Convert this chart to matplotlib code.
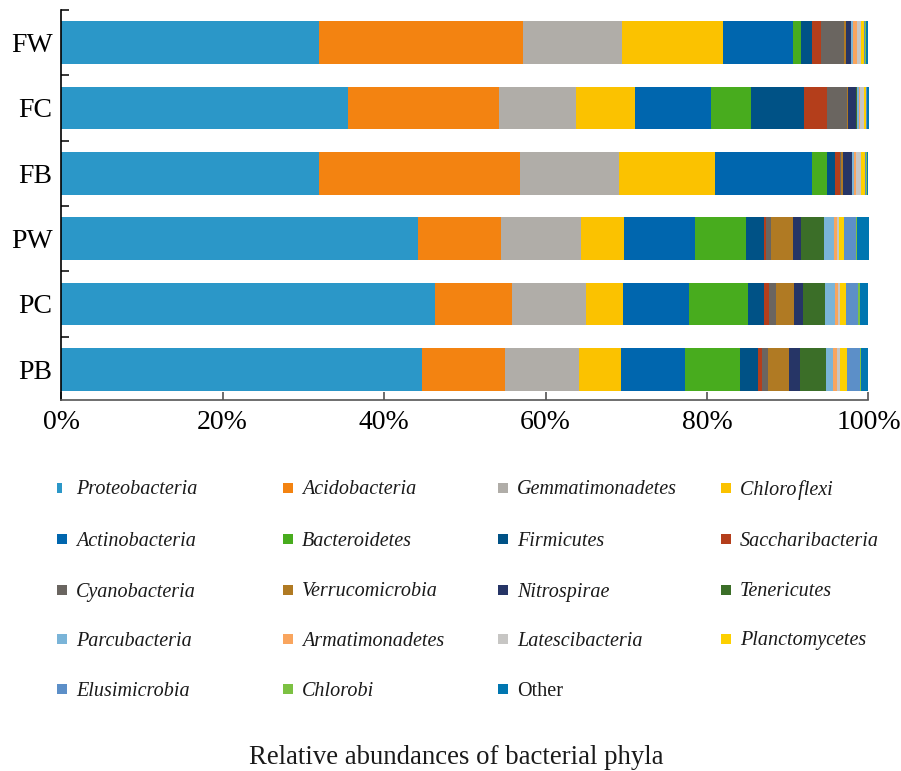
import matplotlib
matplotlib.use("Agg")
import matplotlib.pyplot as plt
from matplotlib.patches import Rectangle
import numpy as np

samples = ["PB", "PC", "PW", "FB", "FC", "FW"]

phyla = ["Proteobacteria", "Acidobacteria", "Gemmatimonadetes", "Chloroflexi",
         "Actinobacteria", "Bacteroidetes", "Firmicutes", "Saccharibacteria",
         "Cyanobacteria", "Verrucomicrobia", "Nitrospirae", "Tenericutes",
         "Parcubacteria", "Armatimonadetes", "Latescibacteria", "Planctomycetes",
         "Elusimicrobia", "Chlorobi", "Other"]

legend_labels = ["Proteobacteria", "Acidobacteria", "Gemmatimonadetes", "Chloro\u200aflexi",
                 "Actinobacteria", "Bacteroidetes", "Firmicutes", "Saccharibacteria",
                 "Cyanobacteria", "Verrucomicrobia", "Nitrospirae", "Tenericutes",
                 "Parcubacteria", "Armatimonadetes", "Latescibacteria", "Planctomycetes",
                 "Elusimicrobia", "Chlorobi", "Other"]

colors = ["#2B97C8", "#F38311", "#B0ADA8", "#FBC200",
          "#0066AE", "#48AC1E", "#005286", "#B43E1B",
          "#6A6560", "#B07A23", "#263566", "#3B6E28",
          "#7AB4D8", "#F9A55E", "#C7C6C4", "#FDD000",
          "#5C8FC8", "#7CC142", "#0076B0"]

# relative abundance (%) per phylum, one value per sample in order PB, PC, PW, FB, FC, FW
proteobacteria   = [44.7, 46.3, 44.2, 31.9, 35.5, 31.95]
acidobacteria    = [10.3,  9.6, 10.3, 24.9, 18.7, 25.25]
gemmatimonadetes = [ 9.1,  9.1,  9.9, 12.3,  9.6, 12.3]
chloroflexi      = [ 5.3,  4.6,  5.3, 11.9,  7.3, 12.5]
actinobacteria   = [ 7.9,  8.2,  8.8, 12.0,  9.4,  8.6]
bacteroidetes    = [ 6.8,  7.3,  6.3,  1.9,  5.0,  1.0]
firmicutes       = [ 2.2,  1.9,  2.3,  1.0,  6.5,  1.4]
saccharibacteria = [ 0.5,  0.7,  0.2,  0.6,  2.9,  1.1]
cyanobacteria    = [ 0.8,  0.8,  0.6,  0.15, 2.4,  2.9]
verrucomicrobia  = [ 2.6,  2.3,  2.8,  0.15, 0.1,  0.2]
nitrospirae      = [ 1.3,  1.1,  1.0,  1.1,  1.1,  0.6]
tenericutes      = [ 3.2,  2.7,  2.8,  0.05, 0.05, 0.05]
parcubacteria    = [ 0.9,  1.2,  1.2,  0.25, 0.25, 0.25]
armatimonadetes  = [ 0.5,  0.4,  0.4,  0.3,  0.2,  0.5]
latescibacteria  = [ 0.4,  0.3,  0.3,  0.6,  0.5,  0.5]
planctomycetes   = [ 0.8,  0.7,  0.6,  0.5,  0.25, 0.4]
elusimicrobia    = [ 1.6,  1.5,  1.4,  0.1,  0.05, 0.1]
chlorobi         = [ 0.2,  0.2,  0.2,  0.1,  0.05, 0.1]
other            = [ 0.9,  1.1,  1.4,  0.2,  0.15, 0.3]

series = [proteobacteria, acidobacteria, gemmatimonadetes, chloroflexi,
          actinobacteria, bacteroidetes, firmicutes, saccharibacteria,
          cyanobacteria, verrucomicrobia, nitrospirae, tenericutes,
          parcubacteria, armatimonadetes, latescibacteria, planctomycetes,
          elusimicrobia, chlorobi, other]

serif = ["Liberation Serif", "DejaVu Serif"]

fig = plt.figure(figsize=(9.01, 7.71), dpi=100)
ax = fig.add_axes([61 / 901, 1 - 400 / 771, 807.5 / 901, 390 / 771])

y = np.arange(len(samples))
left = np.zeros(len(samples))
for vals, col in zip(series, colors):
    vals = np.asarray(vals)
    ax.barh(y, vals, left=left, height=0.65, color=col, linewidth=0)
    left += vals

ax.set_xlim(0, 100)
ax.set_ylim(-0.47, 5.5)

ax.set_xticks([0, 20, 40, 60, 80, 100])
ax.set_xticklabels(["0%", "20%", "40%", "60%", "80%", "100%"], family=serif, fontsize=20)
ax.tick_params(axis="x", direction="in", length=6, width=1.1, color="#444444", pad=7)

ax.set_yticks(y)
ax.set_yticklabels(samples, family=serif, fontsize=20)
ax.tick_params(axis="y", which="major", length=0, pad=6)
ax.set_yticks(np.arange(len(samples)) + 0.5, minor=True)
ax.tick_params(axis="y", which="minor", direction="in", length=6, width=1.1, color="black")

for s in ["top", "right"]:
    ax.spines[s].set_visible(False)
ax.spines["left"].set_color("black")
ax.spines["left"].set_linewidth(1.2)
ax.spines["bottom"].set_color("#555555")
ax.spines["bottom"].set_linewidth(1.2)

# legend laid out row by row in four columns
col_x = [57, 283, 498, 721]
row_y = [489, 540, 591, 640, 690]
W, H = 901, 771
for i, (lab, col) in enumerate(zip(legend_labels, colors)):
    r, c = divmod(i, 4)
    mx = col_x[c]
    my = row_y[r]
    mw = 5 if i == 0 else 10
    fig.add_artist(Rectangle((mx / W, 1 - (my + 4) / H), mw / W, 10 / H,
                             transform=fig.transFigure, color=col, linewidth=0))
    style = "normal" if lab == "Other" else "italic"
    fig.text((mx + 19) / W, 1 - (my + 1) / H, lab, family=serif, style=style,
             fontsize=14.5, va="center", ha="left", color="#1a1a1a")

fig.text(456 / W, 1 - 757 / H, "Relative abundances of bacterial phyla",
         family=serif, fontsize=19.3, ha="center", va="center", color="#1a1a1a")

fig.savefig("out.png", dpi=100)
